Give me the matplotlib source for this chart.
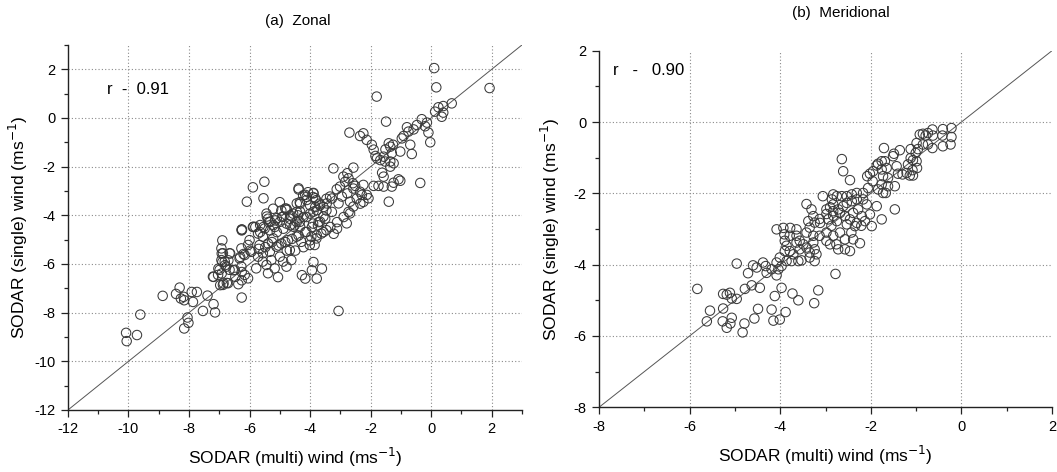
import numpy as np
import matplotlib
matplotlib.use("Agg")
import matplotlib.pyplot as plt
from matplotlib.ticker import MultipleLocator

plt.rcParams['font.family'] = ['Liberation Sans', 'DejaVu Sans']
plt.rcParams['axes.unicode_minus'] = False

# zonal wind: (multi, single) pairs
zonal = np.array([
    (0.1, 2.05), (0.17, 1.26), (1.93, 1.23), (-1.8, 0.88), (-1.49, -0.15), (-2.7, -0.6),
    (-2.24, -0.63), (-2.35, -0.74), (-2.13, -0.9), (-1.96, -1.1), (-1.9, -1.3),
    (0.68, 0.6), (0.4, 0.49), (0.24, 0.44), (0.13, 0.26), (0.35, 0.05), (0.4, 0.22),
    (-0.31, -0.05), (-0.14, -0.19), (-0.47, -0.29), (-0.58, -0.47), (-0.8, -0.38),
    (-0.75, -0.56), (-0.91, -0.74), (-0.97, -0.84), (-0.09, -0.6), (-0.03, -1.0),
    (-0.69, -1.1), (-0.64, -1.48), (-1.02, -1.38), (-1.35, -1.18), (-1.4, -1.04),
    (-1.26, -1.1), (-1.51, -1.29), (-1.57, -1.59), (-1.68, -1.73), (-1.35, -1.79),
    (-1.24, -1.86), (-1.35, -2.0), (-1.79, -1.66), (-1.84, -1.56), (-1.62, -2.25),
    (-1.57, -2.41), (-1.08, -2.52), (-1.24, -2.66), (-1.3, -2.82), (-1.57, -2.82),
    (-1.74, -2.79), (-1.9, -2.79), (-0.36, -2.67), (-1.4, -3.44), (-1.02, -2.58),
    (-3.23, -2.07), (-2.57, -2.04), (-2.77, -2.27), (-2.9, -2.41), (-2.73, -2.48),
    (-2.84, -2.62), (-2.59, -2.68), (-2.51, -2.79), (-2.24, -2.75), (-2.13, -3.16),
    (-2.07, -3.3), (-2.29, -3.16), (-5.89, -2.85), (-5.51, -2.62), (-6.09, -3.44),
    (-5.54, -3.3), (-4.38, -2.89), (-4.16, -3.16), (-3.89, -3.1), (-3.83, -3.3),
    (-4.11, -3.37), (-3.34, -3.23), (-3.12, -2.93), (-3.01, -2.82), (-2.95, -3.23),
    (-2.77, -3.1), (-3.06, -3.51), (-3.45, -3.51), (-2.68, -3.44), (-2.57, -3.64),
    (-4.44, -3.51), (-4.33, -3.85), (-4.77, -3.78), (-4.88, -4.05), (-5.1, -4.12),
    (-5.32, -4.26), (-5.43, -4.05), (-3.89, -3.85), (-3.56, -4.05), (-3.67, -4.26),
    (-2.79, -4.33), (-2.68, -3.92), (-6.26, -4.58), (-5.87, -4.47), (-5.65, -4.4),
    (-5.21, -4.4), (-4.55, -4.47), (-4.33, -4.47),
    (-1.3, -1.45), (-1.52, -1.79), (-0.2, -0.34),
    (-2.57, -2.9), (-3.28, -3.31), (-3.67, -3.59), (-3.83, -3.66), (-2.46, -3.31),
    (-2.24, -3.45), (-2.35, -3.03),
    (-10.08, -8.83), (-10.06, -9.17), (-9.72, -8.92), (-9.61, -8.08),
    (-8.87, -7.31), (-8.43, -7.23), (-8.31, -6.97), (-8.27, -7.42), (-8.18, -7.35),
    (-8.16, -7.49), (-7.91, -7.15), (-7.74, -7.15), (-7.87, -7.56),
    (-8.05, -8.2), (-8.02, -8.42), (-8.16, -8.65),
    (-7.54, -7.93), (-7.39, -7.3), (-7.19, -7.65), (-7.14, -7.99),
    (-7.19, -6.53), (-7.03, -6.19), (-6.92, -6.39), (-6.86, -6.8), (-6.75, -6.78),
    (-6.97, -6.87), (-6.9, -5.03), (-6.92, -5.57), (-6.9, -5.92), (-6.81, -6.05),
    (-6.64, -5.57), (-6.7, -5.85), (-6.53, -6.26), (-6.47, -6.53),
    (-6.26, -4.62), (-6.31, -5.71), (-6.26, -6.33), (-6.26, -6.67), (-6.37, -6.83),
    (-6.26, -7.38), (-3.06, -7.93),
    (-3.89, -5.92), (-3.94, -6.26), (-3.78, -6.6), (-3.61, -6.19), (-4.27, -6.46),
    (-4.16, -6.6),
    (-6.93, -5.36), (-6.88, -5.56), (-6.66, -5.56), (-6.93, -5.84), (-6.82, -5.9),
    (-6.77, -6.11), (-6.66, -6.24), (-6.99, -6.24), (-7.21, -6.52), (-7.04, -6.45),
    (-6.49, -6.24), (-6.27, -6.11), (-6.33, -5.77), (-6.16, -5.63), (-6.27, -5.36),
    (-6.0, -5.02), (-6.05, -5.22), (-5.94, -5.5), (-6.16, -6.45), (-6.05, -6.59),
    (-6.88, -6.86), (-6.71, -6.79),
    (-5.72, -5.7), (-5.56, -5.9), (-5.78, -6.18), (-5.39, -6.38), (-5.44, -6.04),
    (-5.17, -6.18), (-5.06, -6.54), (-5.28, -5.84), (-5.56, -5.56), (-5.33, -5.5),
    (-5.67, -5.22), (-5.39, -5.16), (-5.11, -5.29), (-5.0, -5.7), (-4.89, -5.9),
    (-4.78, -6.11), (-4.62, -5.84), (-4.67, -5.43), (-4.95, -5.16), (-4.73, -5.02),
    (-5.22, -4.95), (-5.56, -4.88), (-5.72, -4.75), (-5.89, -4.48), (-5.5, -4.54),
    (-5.17, -4.48), (-5.0, -4.27), (-4.78, -4.34), (-4.51, -4.41), (-4.34, -4.27),
    (-4.12, -4.68), (-3.96, -4.88), (-4.45, -4.88), (-4.29, -5.09), (-4.01, -5.22),
    (-3.85, -5.22), (-3.79, -4.95), (-3.63, -4.75), (-3.46, -4.61), (-3.74, -4.41),
    (-3.9, -4.34), (-4.12, -4.07), (-4.4, -4.0), (-4.67, -4.14), (-4.95, -3.8),
    (-5.22, -3.73), (-5.44, -3.93), (-5.39, -4.14), (-5.0, -3.46), (-4.78, -3.73),
    (-4.56, -3.93), (-4.34, -3.46), (-4.23, -3.18), (-4.07, -3.05), (-3.9, -3.25),
    (-3.68, -3.52), (-3.46, -3.32), (-3.46, -3.8),
    (-6.25, -4.59), (-4.38, -2.94), (-4.11, -3.24), (-3.89, -3.08), (-3.8, -3.38),
    (-4.33, -3.52), (-4.0, -3.59), (-4.44, -3.86), (-4.82, -3.72), (-4.66, -4.0),
    (-4.93, -4.07), (-5.15, -4.21), (-5.37, -4.28), (-5.54, -4.48), (-5.81, -4.48),
    (-5.65, -4.69), (-5.32, -4.62), (-5.1, -4.69), (-4.88, -4.55), (-4.66, -4.41),
    (-4.44, -4.28), (-4.22, -4.07), (-4.0, -3.93), (-3.78, -3.79), (-3.56, -3.66),
    (-3.5, -4.14), (-3.72, -4.28), (-3.94, -4.48), (-4.16, -4.69), (-4.38, -4.83),
    (-4.6, -4.97), (-4.82, -5.1), (-5.04, -5.24), (-5.26, -5.1), (-5.48, -5.31),
    (-5.7, -5.38), (-5.98, -5.45), (-6.2, -5.59), (-3.56, -4.69), (-3.78, -4.83),
    (-4.0, -5.03), (-4.22, -5.31), (-4.49, -5.45), (-4.77, -5.45),
    (-3.28, -3.86), (-3.33, -4.48), (-3.11, -4.28), (-2.89, -4.07), (-2.73, -3.86),
    (-2.34, -3.52), (-3.11, -4.55), (-3.22, -4.76),
])

# meridional wind: (multi, single) pairs
meridional = np.array([
    (-0.22, -0.17), (-0.41, -0.2), (-0.64, -0.21), (-0.74, -0.31), (-0.85, -0.33),
    (-0.92, -0.35), (-0.79, -0.38), (-0.63, -0.38), (-0.42, -0.38), (-0.22, -0.42),
    (-0.41, -0.68), (-0.24, -0.63), (-0.64, -0.73), (-0.74, -0.63), (-0.85, -0.63),
    (-0.99, -0.59), (-1.12, -0.76), (-0.96, -0.76), (-1.01, -0.87), (-1.12, -1.01),
    (-1.07, -1.07), (-0.99, -1.1), (-0.98, -1.29), (-1.08, -1.35), (-1.14, -1.5),
    (-1.18, -1.19), (-1.07, -1.5), (-1.21, -1.43), (-1.3, -1.47), (-1.4, -1.45),
    (-1.43, -1.24), (-1.51, -0.96), (-1.36, -0.79), (-1.49, -0.89), (-1.71, -0.73),
    (-1.76, -1.1), (-1.84, -1.17), (-1.69, -1.1), (-1.65, -1.29), (-1.76, -1.33),
    (-1.87, -1.22), (-1.95, -1.38), (-2.02, -1.45), (-2.08, -1.52), (-1.73, -1.52),
    (-1.62, -1.57), (-1.76, -1.75), (-1.62, -1.8), (-1.47, -1.8), (-1.67, -1.99),
    (-1.84, -1.89), (-1.96, -1.66), (-2.06, -1.85), (-1.73, -1.99), (-1.47, -2.45),
    (-1.76, -2.73), (-1.98, -2.92), (-2.09, -2.31), (-2.02, -2.59), (-1.87, -2.36),
    (-2.17, -1.99), (-2.31, -1.99), (-2.42, -2.03), (-2.53, -2.08), (-2.64, -2.08),
    (-2.75, -2.08), (-2.83, -2.03), (-2.86, -2.17), (-2.83, -2.31), (-2.72, -2.45),
    (-2.61, -2.36), (-2.53, -2.27), (-2.42, -2.22), (-2.31, -2.17), (-2.17, -2.17),
    (-2.28, -2.45), (-2.2, -2.64), (-2.13, -2.78), (-2.31, -2.83), (-2.46, -2.73),
    (-2.39, -2.55), (-2.57, -2.64), (-2.68, -2.55), (-2.83, -2.5), (-2.98, -2.45),
    (-3.06, -2.08), (-3.31, -2.45), (-3.27, -2.64), (-3.38, -2.78), (-3.12, -2.83),
    (-2.94, -2.73), (-2.75, -2.78), (-2.53, -2.87), (-2.35, -2.92), (-2.64, -1.04),
    (-2.61, -1.38), (-2.46, -1.63), (-3.64, -3.01), (-3.78, -2.97), (-3.93, -2.97),
    (-4.08, -3.01),
    (-2.21, -2.91), (-2.87, -2.91), (-2.83, -2.63), (-2.9, -2.39), (-2.98, -2.58),
    (-3.13, -2.72), (-3.24, -2.82), (-3.35, -2.96), (-3.42, -2.3),
    (-2.24, -3.4), (-2.46, -3.62), (-2.57, -3.57), (-2.72, -3.57), (-2.76, -3.43),
    (-2.9, -3.43), (-2.98, -3.33), (-2.83, -3.19), (-2.68, -3.1), (-2.57, -3.29),
    (-2.39, -3.29), (-2.43, -3.1), (-2.98, -3.1), (-3.13, -3.19), (-3.27, -3.19),
    (-3.42, -3.1), (-3.27, -3.38), (-3.24, -3.57), (-3.2, -3.71), (-3.24, -3.9),
    (-3.35, -3.66), (-3.49, -3.43), (-3.57, -3.33), (-3.64, -3.19), (-3.79, -3.19),
    (-3.91, -3.15), (-3.9, -3.33), (-3.86, -3.47), (-3.9, -3.62), (-3.79, -3.62),
    (-3.71, -3.71), (-3.6, -3.9), (-3.53, -3.88), (-3.35, -3.8), (-3.42, -3.52),
    (-3.57, -3.57), (-3.64, -3.38), (-3.75, -3.9), (-3.86, -3.9), (-4.01, -3.8),
    (-4.08, -3.94), (-3.97, -4.04), (-4.04, -4.13), (-4.08, -4.3), (-4.19, -4.13),
    (-4.3, -4.23), (-4.32, -4.04), (-4.38, -3.94), (-4.52, -4.08), (-4.6, -4.02),
    (-4.71, -4.24), (-4.96, -3.97), (-4.45, -4.65), (-4.63, -4.58), (-4.78, -4.68),
    (-4.96, -4.96), (-5.26, -4.82), (-5.18, -4.84), (-5.11, -4.79), (-5.07, -4.95),
    (-5.55, -5.29), (-5.26, -5.23), (-5.62, -5.59), (-5.27, -5.59), (-5.07, -5.49),
    (-5.1, -5.65), (-5.18, -5.77), (-4.83, -5.9), (-4.79, -5.65), (-4.57, -5.51),
    (-4.49, -5.24), (-4.19, -5.26), (-4.15, -5.57), (-4.01, -5.54), (-3.88, -5.33),
    (-3.97, -4.65), (-4.12, -4.88), (-3.73, -4.81), (-3.6, -5.0), (-3.25, -5.08),
    (-3.16, -4.72), (-2.78, -4.26), (-5.83, -4.68),
])

panels = [
    dict(data=zonal, rect=[0.0643, 0.1314, 0.4295, 0.7733], lim=(-12, 3), ypad=3,
         r_text='r  -  0.91', r_pos=(-10.7, 1.15), title='(a)  Zonal', title_pos=(0.282, 0.955)),
    dict(data=meridional, rect=[0.5667, 0.1371, 0.4286, 0.7555], lim=(-8, 2), ypad=8,
         r_text='r   -   0.90', r_pos=(-7.68, 1.45), title='(b)  Meridional', title_pos=(0.795, 0.972)),
]

fig = plt.figure(figsize=(10.57, 4.72), dpi=100)

for p in panels:
    ax = fig.add_axes(p['rect'])
    lo, hi = p['lim']
    ax.set_xlim(lo, hi)
    ax.set_ylim(lo, hi)

    # 1:1 reference line
    ax.plot([lo, hi], [lo, hi], color='#555555', lw=0.7, zorder=2)
    ax.scatter(p['data'][:, 0], p['data'][:, 1], s=46, facecolors='none',
               edgecolors='#3a3a3a', linewidths=0.75, zorder=3)

    ax.xaxis.set_major_locator(MultipleLocator(2))
    ax.yaxis.set_major_locator(MultipleLocator(2))
    ax.xaxis.set_minor_locator(MultipleLocator(1))
    ax.yaxis.set_minor_locator(MultipleLocator(1))
    ax.tick_params(which='major', direction='out', length=5, width=0.9,
                   labelsize=10.5, color='#222222', pad=4)
    ax.tick_params(which='minor', direction='out', length=3, width=0.9, color='#222222')

    ax.grid(True, which='major', linestyle=(0, (1, 2)), color='#8a8a8a', lw=0.8)
    for gl, v in zip(ax.get_xgridlines(), ax.get_xticks()):
        if v <= lo or v >= hi:
            gl.set_visible(False)
    for gl, v in zip(ax.get_ygridlines(), ax.get_yticks()):
        if v <= lo or v >= hi:
            gl.set_visible(False)
    ax.set_axisbelow(True)

    for side in ['top', 'right']:
        ax.spines[side].set_visible(False)
    for side in ['left', 'bottom']:
        ax.spines[side].set_linewidth(1.0)
        ax.spines[side].set_color('#222222')

    ax.set_xlabel('SODAR (multi) wind (ms$^{-1}$)', fontsize=12.5, labelpad=7)
    ax.set_ylabel('SODAR (single) wind (ms$^{-1}$)', fontsize=12.5, labelpad=p['ypad'])
    ax.text(p['r_pos'][0], p['r_pos'][1], p['r_text'], fontsize=12, va='center')
    fig.text(p['title_pos'][0], p['title_pos'][1], p['title'], fontsize=11,
             ha='center', va='center')

fig.savefig('out.png', dpi=100)
